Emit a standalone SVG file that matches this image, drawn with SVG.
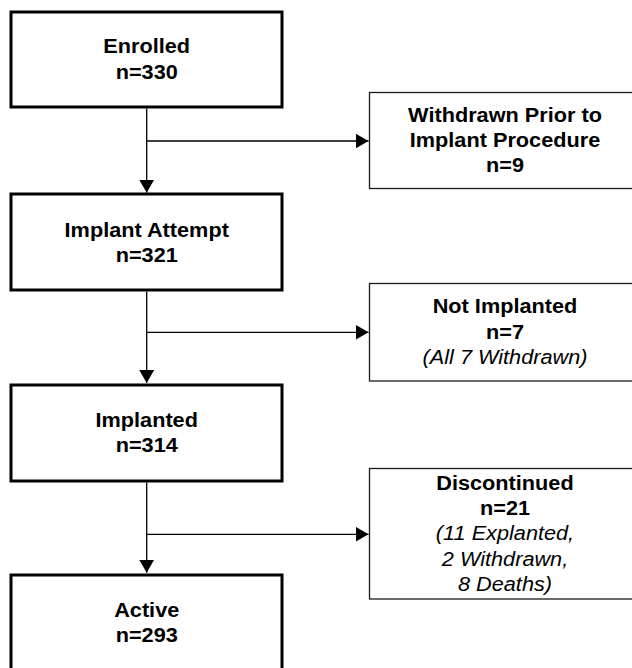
<svg xmlns="http://www.w3.org/2000/svg" width="632" height="668" viewBox="0 0 632 668">
<defs>
<style>
.main{fill:#fff;stroke:#000;stroke-width:3}
.side{fill:#fff;stroke:#1a1a1a;stroke-width:1.3}
.t{font-family:"Liberation Sans",Arial,sans-serif;font-size:20px;text-anchor:middle;fill:#000}
.b{font-weight:bold}
.i{font-style:italic}
.c{fill:none;stroke:#000;stroke-width:1.3}
</style>
<marker id="ah" markerUnits="userSpaceOnUse" markerWidth="14" markerHeight="16" refX="13" refY="7.5" orient="auto">
<path d="M0,0 L13,7.5 L0,15 z" fill="#000"/>
</marker>
</defs>
<rect width="632" height="668" fill="#fff"/>
<g id="connectors">
<line class="c" x1="146.7" y1="108.5" x2="146.7" y2="192.7" marker-end="url(#ah)"/>
<line class="c" x1="146.7" y1="141" x2="368.5" y2="141" marker-end="url(#ah)"/>
<line class="c" x1="146.7" y1="291.5" x2="146.7" y2="383" marker-end="url(#ah)"/>
<line class="c" x1="146.7" y1="332.3" x2="368.5" y2="332.3" marker-end="url(#ah)"/>
<line class="c" x1="146.7" y1="482.5" x2="146.7" y2="572.7" marker-end="url(#ah)"/>
<line class="c" x1="146.7" y1="534.3" x2="368.5" y2="534.3" marker-end="url(#ah)"/>
</g>
<g id="enrolled">
<rect class="main" x="11" y="12" width="271" height="95"/>
<g transform="translate(146.7 0) scale(1.085 1)">
<text class="t b" x="0" y="53.3">Enrolled</text>
<text class="t b" x="0" y="79">n=330</text>
</g>
</g>
<g id="withdrawn">
<rect class="side" x="369.5" y="92.5" width="271" height="96"/>
<g transform="translate(505 0) scale(1.085 1)">
<text class="t b" x="0" y="121.7">Withdrawn Prior to</text>
<text class="t b" x="0" y="146.7">Implant Procedure</text>
<text class="t b" x="0" y="171.7">n=9</text>
</g>
</g>
<g id="implant-attempt">
<rect class="main" x="11" y="194" width="271" height="96"/>
<g transform="translate(146.7 0) scale(1.085 1)">
<text class="t b" x="0" y="236.7">Implant Attempt</text>
<text class="t b" x="0" y="262">n=321</text>
</g>
</g>
<g id="not-implanted">
<rect class="side" x="369.5" y="283.5" width="271" height="97.5"/>
<g transform="translate(505 0) scale(1.085 1)">
<text class="t b" x="0" y="313.3">Not Implanted</text>
<text class="t b" x="0" y="339.3">n=7</text>
<text class="t i" x="0" y="364">(All 7 Withdrawn)</text>
</g>
</g>
<g id="implanted">
<rect class="main" x="11" y="385" width="271" height="96"/>
<g transform="translate(146.7 0) scale(1.085 1)">
<text class="t b" x="0" y="427.3">Implanted</text>
<text class="t b" x="0" y="452.3">n=314</text>
</g>
</g>
<g id="discontinued">
<rect class="side" x="369.5" y="468.5" width="271" height="130.5"/>
<g transform="translate(505 0) scale(1.085 1)">
<text class="t b" x="0" y="490">Discontinued</text>
<text class="t b" x="0" y="515">n=21</text>
<text class="t i" x="0" y="540">(11 Explanted,</text>
<text class="t i" x="0" y="565.7">2 Withdrawn,</text>
<text class="t i" x="0" y="590.7">8 Deaths)</text>
</g>
</g>
<g id="active">
<rect class="main" x="11" y="575" width="271" height="96"/>
<g transform="translate(146.7 0) scale(1.085 1)">
<text class="t b" x="0" y="616.7">Active</text>
<text class="t b" x="0" y="641.7">n=293</text>
</g>
</g>
</svg>
